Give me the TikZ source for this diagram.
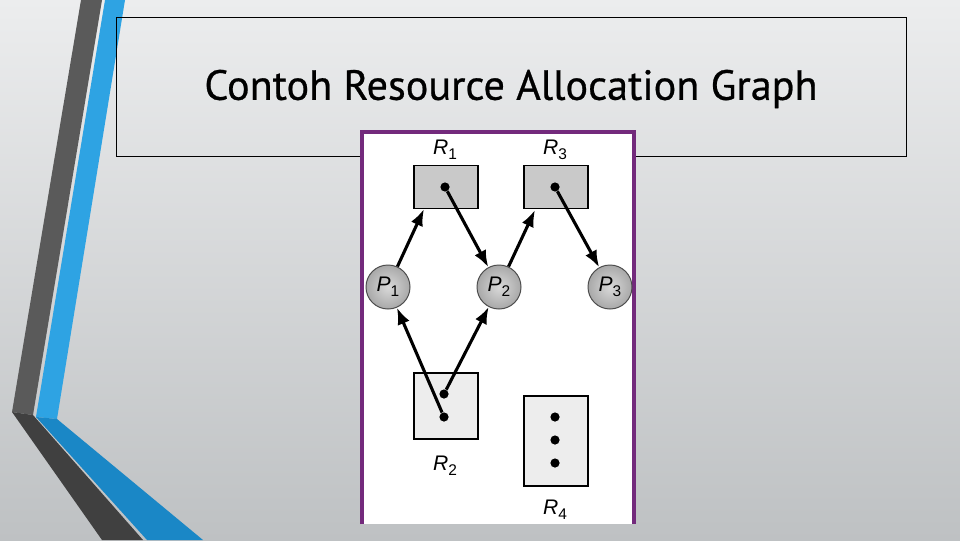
\documentclass[tikz,border=0pt]{standalone}
\usepackage{fontspec}
\setmainfont{PT Sans}
\newfontfamily\figfont{Liberation Sans}
\usetikzlibrary{arrows.meta}
\definecolor{bgtop}{HTML}{ECEDEE}
\definecolor{bgbot}{HTML}{BEC1C3}
\definecolor{darkA}{HTML}{5A5A5A}
\definecolor{darkB}{HTML}{404040}
\definecolor{blueA}{HTML}{2EA3E3}
\definecolor{blueB}{HTML}{1A87C6}
\definecolor{frame}{HTML}{732A7C}
\newcommand{\rlbl}[2]{{\figfont\itshape #1}\raisebox{-0.45ex}{\figfont\fontsize{11}{12}\selectfont #2}}
\begin{document}
\begin{tikzpicture}[x=0.025cm, y=-0.025cm,
	res/.style={draw=black, line width=0.9pt, minimum width=1.6cm, inner sep=0pt},
	proc/.style={circle, draw=gray!60!black, line width=0.7pt, minimum size=1.1cm, inner sep=0pt,
		inner color=gray!30, outer color=gray!68, font=\figfont\fontsize{15}{18}\selectfont},
	tok/.style={circle, fill=black, minimum size=0.23cm, inner sep=0pt},
	lbl/.style={font=\figfont\fontsize{15}{18}\selectfont},
	arr/.style={line width=2.2pt, -{Latex[length=0.42cm, width=0.32cm]}}]
		\useasboundingbox (0,0) rectangle (960,540);
		% sfondo
		\shade[top color=bgtop, bottom color=bgbot] (0,0) rectangle (960,540);
		% strisce a sinistra
		\fill[darkA] (81,0) -- (102,0) -- (33,415) -- (12,412) -- cycle;
		\fill[darkB] (12,412) -- (33,415) -- (143,540) -- (102,540) -- cycle;
		\fill[blueA] (105,0) -- (125,0) -- (57,419) -- (36,417) -- cycle;
		\fill[blueB] (36,417) -- (57,419) -- (203,540) -- (147,540) -- cycle;
		% titolo
		\node (titlebox) [draw=black, line width=0.7pt, minimum width=19.725cm, minimum height=3.45cm] at (511.5,87) {};
		\node (title) at (511,89) {\addfontfeature{FakeBold=0.6}\fontsize{30}{36}\selectfont Contoh Resource Allocation Graph};
		% riquadro del grafo
		\fill[white] (362,132) rectangle (634,524);
		\draw[frame, line width=2.8pt] (362,524) -- (362,132) -- (634,132) -- (634,524);
		% risorse
		\node (r1) [res, fill=gray!42, minimum height=1.075cm] at (446,187) {};
		\node (r3) [res, fill=gray!42, minimum height=1.075cm] at (556,187) {};
		\node (r2) [res, fill=gray!14, minimum height=1.65cm] at (446,406) {};
		\node (r4) [res, fill=gray!14, minimum height=2.25cm] at (556,441) {};
		\node (r1l) [lbl] at (445,150) {\rlbl{R}{1}};
		\node (r3l) [lbl] at (555,150) {\rlbl{R}{3}};
		\node (r2l) [lbl] at (445,466) {\rlbl{R}{2}};
		\node (r4l) [lbl] at (555,510) {\rlbl{R}{4}};
		% istanze
		\node (r1d) [tok] at (445,187) {};
		\node (r3d) [tok] at (555,187) {};
		\node (r2a) [tok] at (444,394) {};
		\node (r2b) [tok] at (444,417) {};
		\node (r4a) [tok] at (555,417) {};
		\node (r4b) [tok] at (555,440) {};
		\node (r4c) [tok] at (555,463) {};
		% processi
		\node (p1) [proc] at (388,287) {\rlbl{P}{1}};
		\node (p2) [proc] at (499,287) {\rlbl{P}{2}};
		\node (p3) [proc] at (610,287) {\rlbl{P}{3}};
		% archi
		\coordinate (r1e) at (424,209);
		\coordinate (r3e) at (535,210);
		\draw[arr] (p1) -- (r1e);
		\draw[arr] (r1d) -- (p2);
		\draw[arr] (p2) -- (r3e);
		\draw[arr] (r3d) -- (p3);
		\draw[arr] (r2a) -- (p2);
		\draw[arr] (r2b) -- (p1);
	\end{tikzpicture}
\end{document}
